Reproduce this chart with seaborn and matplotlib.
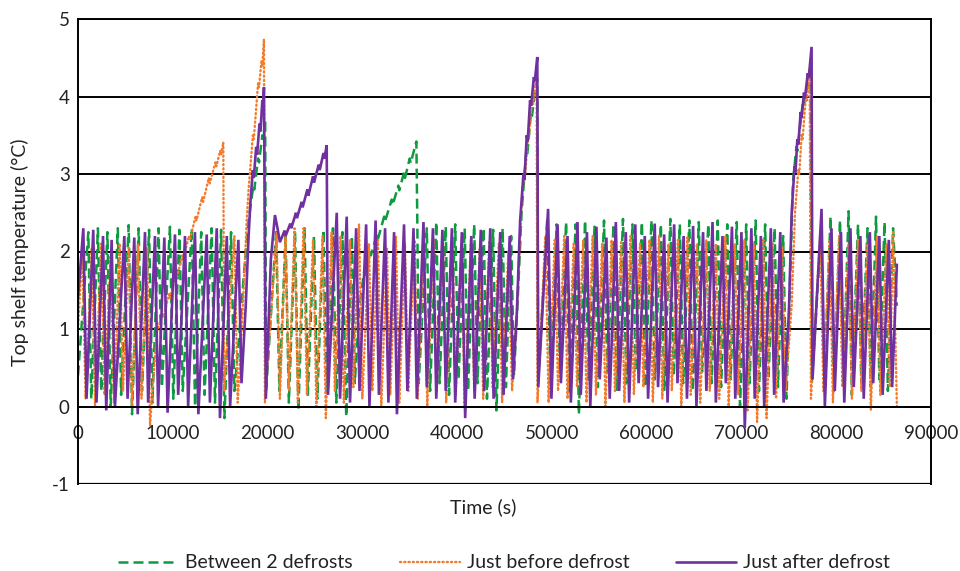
import matplotlib
matplotlib.use("Agg")
import matplotlib.pyplot as plt
import seaborn as sns
import pandas as pd

# ---------------- data (time s, temperature °C) ----------------
series_names = ["Between 2 defrosts", "Just before defrost", "Just after defrost"]

between_2_defrosts = [
    (0, 0.4), (1090, 2.25), (1400, 0.1), (2100, 2.3), (2450, 0.2), (3100, 2.25), (3450, 0.0),
    (4200, 2.3), (4550, 0.15), (5350, 2.34), (5700, -0.1), (6400, 2.3), (6750, 0.2), (7500, 2.28),
    (7850, 0.05), (8500, 2.3), (8850, 0.25), (9700, 2.32), (10050, 0.1), (10700, 2.28), (11050, 0.2),
    (12000, 2.3), (12350, 0.0), (13000, 2.25), (13350, 0.15), (14100, 2.3), (14450, 0.05),
    (15100, 2.28), (15450, -0.15), (16150, 2.25), (16500, 0.2),
    (17000, 0.9), (17500, 1.7), (18000, 2.4), (18500, 2.85), (18600, 2.8), (19000, 3.2), (19100, 3.15),
    (19450, 3.5), (19550, 3.45), (19750, 3.7), (19850, 0.2),
    (20900, 2.25), (21250, 0.2), (21900, 2.2), (22250, 0.05), (22900, 2.25), (23250, -0.05),
    (23900, 2.3), (24250, 0.15), (24900, 2.2), (25250, 0.1), (25900, 2.28), (26250, 0.2),
    (26900, 2.3), (27250, 0.05), (27900, 2.25), (28300, -0.13), (28900, 2.2), (29200, 0.3),
    (29700, 1.3), (30200, 1.75), (30300, 1.7), (30800, 2.0), (30900, 1.95), (31500, 2.2), (31600, 2.14),
    (32300, 2.45), (32400, 2.39), (33100, 2.67), (33200, 2.6), (33800, 2.85), (33900, 2.79),
    (34400, 3.02), (34500, 2.95), (35000, 3.2), (35100, 3.14), (35700, 3.42), (35800, 2.4), (35950, 0.3),
    (36800, 2.3), (37150, 0.2), (37800, 2.38), (38150, 0.3), (38800, 2.32), (39150, 0.15),
    (39800, 2.35), (40150, 0.35), (40800, 2.3), (41150, 0.2), (41800, 2.35), (42150, 0.3),
    (42800, 2.3), (43150, 0.1), (43800, 2.28), (44150, -0.05), (44800, 2.3), (45150, 0.25),
    (45700, 2.2), (46000, 0.4),
    (46400, 1.4), (46800, 2.5), (47300, 3.3), (47400, 3.25), (47800, 3.8), (47900, 3.75),
    (48200, 4.05), (48450, 4.22), (48550, 0.3),
    (49500, 2.4), (49850, 0.3), (50500, 2.35), (50850, 0.45), (51500, 2.38), (51850, 0.2),
    (52500, 2.35), (52850, -0.1), (53500, 2.4), (53850, 0.35), (54500, 2.32), (54850, 0.25),
    (55500, 2.4), (55850, 0.4), (56500, 2.35), (56850, 0.2), (57500, 2.42), (57850, 0.3),
    (58500, 2.35), (58850, 0.45), (59500, 2.38), (59850, 0.25), (60500, 2.4), (60850, 0.35),
    (61500, 2.35), (61850, 0.2), (62500, 2.42), (62850, 0.4), (63500, 2.35), (63850, 0.3),
    (64500, 2.4), (64850, 0.2), (65500, 2.38), (65850, 0.45), (66500, 2.35), (66850, 0.3),
    (67500, 2.4), (67850, 0.25), (68500, 2.35), (68850, 0.35), (69500, 2.38), (69850, 0.0),
    (70500, 2.35), (70850, 0.3), (71500, 2.4), (71850, 0.2), (72500, 2.35), (72850, 0.35),
    (73500, 2.3), (73850, 0.25), (74400, 2.2), (74750, 0.1),
    (75100, 1.5), (75440, 2.9), (75800, 3.35), (75900, 3.3), (76500, 3.95), (76600, 3.9),
    (77300, 4.3), (77420, 0.3),
    (78400, 2.25), (78750, 0.35), (79400, 2.45), (79750, 0.2), (80400, 2.4), (80750, 0.3),
    (81300, 2.52), (81650, 0.15), (82300, 2.35), (82650, 0.3), (83300, 2.3), (83650, 0.25),
    (84200, 2.45), (84550, 0.35), (85100, 2.38), (85450, 0.2), (86000, 2.3), (86400, 1.3),
]

just_before_defrost = [
    (0, 1.0), (450, 2.0), (800, 0.1), (1450, 2.05), (1800, 0.0), (2450, 2.1), (2800, 0.15),
    (3450, 1.95), (3800, 0.05), (4400, 2.1), (4750, 0.2), (5350, 2.05), (5700, 0.0), (6330, 2.1),
    (6700, 0.1), (7300, 2.05), (7600, -0.25),
    (8300, 0.95), (8900, 1.2), (9000, 1.15), (9600, 1.45), (9700, 1.4), (10300, 1.7), (10400, 1.65),
    (11000, 1.95), (11100, 1.9), (11700, 2.2), (11800, 2.15), (12400, 2.45), (12500, 2.4),
    (13100, 2.7), (13200, 2.64), (13800, 2.95), (13900, 2.88), (14500, 3.15), (14600, 3.1),
    (15000, 3.3), (15100, 3.25), (15330, 3.41), (15420, 0.2),
    (16500, 2.2), (16850, 0.05),
    (17400, 1.3), (17800, 2.4), (18000, 2.8), (18450, 3.5), (18550, 3.45), (19000, 4.17),
    (19100, 4.12), (19350, 4.45), (19450, 4.4), (19620, 4.74), (19720, 0.05),
    (20950, 2.24), (21300, 0.1), (21900, 2.2), (22250, 0.2), (22850, 2.3), (23200, 0.05),
    (23800, 2.3), (24150, 0.15), (24800, 2.15), (25150, 0.0), (25800, 2.2), (26150, -0.15),
    (26750, 2.25), (27100, 0.2), (27700, 2.2), (28050, 0.05), (28700, 2.15), (29050, 0.25),
    (29650, 2.35), (30000, 0.1), (30700, 2.1), (31050, 0.2), (31650, 2.15), (32000, 0.0),
    (32600, 2.05), (32950, 0.15), (33550, 2.2), (33900, 0.05), (34500, 2.1), (34850, 0.2),
    (35500, 2.15), (35850, 0.1), (36500, 2.2), (36850, 0.0), (37500, 2.15), (37850, 0.2),
    (38500, 2.1), (38850, 0.05), (39500, 2.18), (39850, 0.15), (40450, 2.1), (40800, 0.0),
    (41450, 2.15), (41800, 0.2), (42400, 2.05), (42750, 0.1), (43400, 2.12), (43750, 0.25),
    (44400, 2.1), (44750, 0.05), (45400, 2.0), (45800, 0.2),
    (46300, 1.2), (46800, 2.6), (47100, 3.05), (47200, 3.0), (47470, 3.5), (47550, 3.45),
    (47900, 3.95), (48000, 3.9), (48380, 4.26), (48480, 0.05),
    (49300, 2.2), (49650, 0.05), (50300, 2.15), (50650, 0.2), (51300, 2.2), (51650, 0.1),
    (52300, 2.1), (52650, 0.25), (53300, 2.15), (53650, 0.05), (54300, 2.2), (54650, 0.15),
    (55300, 2.1), (55650, 0.0), (56300, 2.15), (56650, 0.2), (57300, 2.12), (57650, 0.05),
    (58300, 2.2), (58650, 0.15), (59300, 2.1), (59650, 0.25), (60300, 2.15), (60650, 0.05),
    (61300, 2.2), (61650, 0.1), (62300, 2.1), (62650, 0.2), (63300, 2.15), (63650, 0.0),
    (64300, 2.18), (64650, 0.15), (65300, 2.1), (65650, 0.05), (66300, 2.15), (66650, 0.2),
    (67300, 2.1), (67650, 0.1), (68300, 2.2), (68650, 0.0), (69300, 2.1), (69650, 0.15),
    (70300, 2.15), (70650, -0.05), (71300, 2.1), (71650, -0.2), (72300, 2.15), (72650, -0.15),
    (73300, 2.1), (73650, 0.1), (74300, 2.05), (74650, 0.2),
    (75300, 1.3), (75650, 2.5), (76000, 3.05), (76100, 3.0), (76350, 3.5), (76450, 3.45),
    (76800, 4.0), (76900, 3.95), (77200, 4.36), (77330, 0.1),
    (78300, 2.2), (78650, 0.2), (79300, 2.15), (79650, 0.05), (80300, 2.2), (80650, 0.25),
    (81300, 2.1), (81650, 0.1), (82300, 2.15), (82650, 0.2), (83300, 2.1), (83650, -0.05),
    (84300, 2.2), (84650, 0.15), (85300, 2.1), (85650, 0.25), (86000, 2.25), (86400, 0.0),
]

just_after_defrost = [
    (0, 1.4), (560, 2.3), (900, 0.1), (1610, 2.28), (1950, 0.05), (2640, 2.2), (2980, -0.05),
    (3550, 2.15), (3900, 0.0), (4890, 2.2), (5230, 0.1), (5940, 2.18), (6300, -0.1), (7070, 2.25),
    (7400, 0.05), (8120, 2.2), (8450, 0.0), (9110, 2.18), (9450, -0.08), (10230, 2.22),
    (10570, 0.15), (11290, 2.2), (11620, 0.0), (12340, 2.25), (12700, -0.1), (13580, 2.22),
    (13920, 0.05), (14640, 2.3), (14980, -0.15), (15700, 2.2), (16050, 0.0), (16920, 2.15),
    (17250, 0.3),
    (17700, 1.3), (18000, 2.2), (18200, 2.65), (18450, 3.05), (18550, 2.95), (18800, 3.35),
    (18900, 3.25), (19150, 3.65), (19250, 3.55), (19450, 3.95), (19520, 3.85), (19620, 4.12),
    (19820, 0.1),
    (20350, 1.9), (20780, 2.47), (21050, 2.3), (21300, 2.12), (21800, 2.27), (21900, 2.2),
    (22400, 2.36), (22500, 2.3), (23000, 2.5), (23100, 2.43), (23600, 2.64), (23700, 2.57),
    (24200, 2.8), (24300, 2.72), (24800, 2.97), (24900, 2.89), (25400, 3.12), (25500, 3.05),
    (25900, 3.27), (26000, 3.2), (26240, 3.37), (26380, 0.15),
    (27300, 2.5), (27650, 0.1), (28350, 2.45), (28700, 0.05), (29350, 2.3), (29700, 0.2),
    (30400, 2.35), (30750, 0.0), (31400, 2.4), (31750, 0.15), (32400, 2.3), (32750, 0.05),
    (33350, 2.25), (33650, -0.1), (34400, 2.35), (34750, 0.2), (35400, 2.3), (35750, 0.1),
    (36450, 2.38), (36800, 0.25), (37450, 2.3), (37800, 0.1), (38450, 2.28), (38800, 0.2),
    (39450, 2.3), (39800, 0.05), (40500, 2.25), (40850, -0.15), (41500, 2.2), (41850, 0.1),
    (42500, 2.28), (42850, 0.2), (43500, 2.3), (43850, 0.1), (44550, 2.25), (44900, 0.15),
    (45550, 2.2), (45900, 0.35),
    (46300, 1.2), (46650, 2.4), (47000, 3.0), (47100, 2.92), (47350, 3.5), (47450, 3.42),
    (47700, 3.95), (47800, 3.88), (48100, 4.25), (48200, 4.2), (48460, 4.51), (48560, 0.25),
    (49600, 2.55), (49950, 0.1), (50600, 2.35), (50950, 0.3), (51650, 2.2), (52000, 0.05),
    (52700, 2.38), (53050, 0.15), (53700, 2.25), (54050, 0.0), (54700, 2.32), (55050, 0.35),
    (55750, 2.18), (56100, 0.1), (56750, 2.38), (57100, 0.2), (57800, 2.25), (58150, 0.05),
    (58800, 2.35), (59150, 0.3), (59800, 2.2), (60150, 0.1), (60850, 2.36), (61200, 0.25),
    (61850, 2.22), (62200, 0.05), (62900, 2.35), (63250, 0.3), (63900, 2.2), (64250, 0.1),
    (64900, 2.33), (65250, 0.0), (65950, 2.25), (66300, 0.2), (66950, 2.38), (67300, 0.05),
    (68000, 2.2), (68350, 0.3), (69000, 2.32), (69350, 0.1), (70000, 2.25), (70350, -0.28),
    (71050, 2.3), (71400, 0.1), (72050, 2.2), (72400, 0.0), (73100, 2.3), (73450, 0.15),
    (74100, 2.25), (74450, 0.05),
    (75000, 1.2), (75300, 2.5), (75600, 3.1), (75700, 3.02), (75900, 3.45), (76000, 3.38),
    (76250, 3.8), (76350, 3.72), (76600, 4.05), (76700, 3.98), (77000, 4.3), (77100, 4.24),
    (77400, 4.64), (77500, 0.35),
    (78450, 2.55), (78800, 0.0), (79500, 2.3), (79850, 0.2), (80500, 2.25), (80850, 0.05),
    (81500, 2.3), (81850, 0.25), (82550, 2.2), (82900, 0.1), (83550, 2.25), (83900, 0.3),
    (84550, 2.2), (84900, 0.15), (85550, 2.15), (85900, 0.25), (86400, 1.83),
]

x_ticks = [0, 10000, 20000, 30000, 40000, 50000, 60000, 70000, 80000, 90000]
y_ticks = [-1, 0, 1, 2, 3, 4, 5]

# ---------------- build long table ----------------
rows = []
for name, pts in zip(series_names, [between_2_defrosts, just_before_defrost, just_after_defrost]):
    for t, v in pts:
        rows.append({"Time (s)": t, "Temp": v, "Series": name})
df = pd.DataFrame(rows)

palette = {"Between 2 defrosts": "#0F9A40",
           "Just before defrost": "#F47B2C",
           "Just after defrost": "#7030A0"}
dashes = {"Between 2 defrosts": (4, 2),
          "Just before defrost": (0.5, 1.3),
          "Just after defrost": ""}

sns.set_style("white")
plt.rcParams["font.family"] = ["Lato", "DejaVu Sans"]

fig = plt.figure(figsize=(9.6, 5.71), dpi=100)
ax = fig.add_axes([78 / 960, 1 - 484 / 571, (931 - 78) / 960, (484 - 19) / 571])

sns.lineplot(data=df, x="Time (s)", y="Temp", hue="Series", style="Series",
             palette=palette, dashes=dashes, hue_order=series_names, style_order=series_names,
             sort=False, estimator=None, legend=False, ax=ax, linewidth=1.7)

data_lines = list(ax.get_lines())
for ln in data_lines:
    ln.set_solid_joinstyle("miter")
data_lines[0].set_linewidth(1.8)
data_lines[1].set_dash_capstyle("round")
data_lines[1].set_linewidth(1.7)
data_lines[2].set_linewidth(1.9)

ax.set_xlim(0, 90000)
ax.set_ylim(-1, 5)
ax.set_xticks(x_ticks)
ax.set_yticks(y_ticks)
ax.set_xticklabels([str(v) for v in x_ticks])
ax.set_yticklabels([str(v) for v in y_ticks])

ax.yaxis.grid(True, color="black", linewidth=1.4)
ax.xaxis.grid(False)
ax.set_axisbelow(True)

for s in ax.spines.values():
    s.set_color("black")
    s.set_linewidth(1.4)
ax.spines["bottom"].set_position(("data", 0))
ax.axhline(-1, color="black", linewidth=1.6, zorder=0.5)

ax.tick_params(axis="x", length=0, pad=13, labelsize=13.5, colors="#222222")
ax.tick_params(axis="y", length=0, pad=6, labelsize=13.5, colors="#222222")

ax.set_xlabel("")
ax.set_ylabel("")
fig.text(483 / 960, 1 - 507 / 571, "Time (s)", ha="center", va="center", fontsize=14, color="#222222")
fig.text(20 / 960, 1 - 252 / 571, "Top shelf temperature (°C)", ha="center", va="center",
         rotation=90, fontsize=14, color="#222222")

leg = fig.legend(data_lines, series_names, loc="center", bbox_to_anchor=(504 / 960, 1 - 563 / 571),
                 ncol=3, frameon=False, fontsize=14, handlelength=3.1, handletextpad=0.35,
                 columnspacing=2.4)
for txt in leg.get_texts():
    txt.set_color("#222222")

fig.savefig("out.png", dpi=100)
